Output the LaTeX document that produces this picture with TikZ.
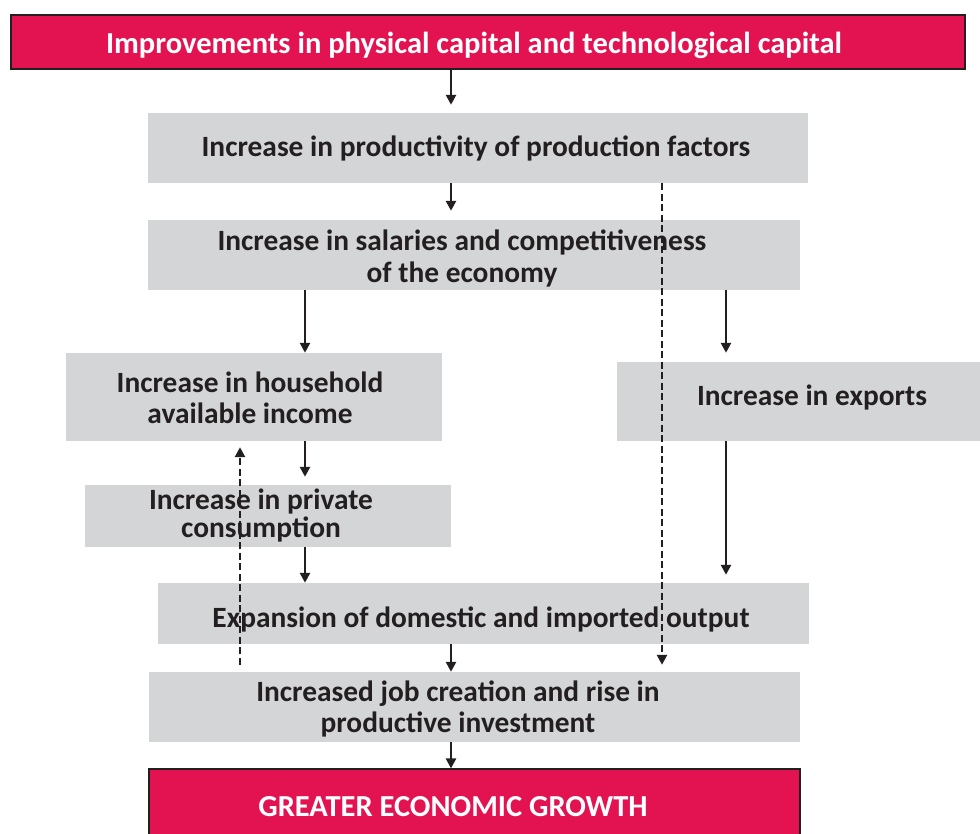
\documentclass[tikz,border=0pt]{standalone}
\usepackage{fontspec}
\setmainfont{Carlito}
\usetikzlibrary{arrows.meta}
\definecolor{boxgray}{HTML}{D4D5D7}
\definecolor{accent}{HTML}{E31351}
\definecolor{ink}{HTML}{231F20}
\begin{document}
\begin{tikzpicture}[x=1pt,y=-1pt,
  panel/.style={fill=boxgray, inner sep=0pt, draw=none},
  hotpanel/.style={fill=accent, draw=ink, line width=1.2pt, inner sep=0pt},
  caption/.style={inner sep=0pt, align=center, text=ink,
    font=\bfseries\fontsize{29.4}{31.5}\selectfont},
  hotcaption/.style={caption, text=white,
    font=\bfseries\fontsize{30.5}{32}\selectfont},
  flow/.style={draw=ink, line width=2.6pt, -{Triangle[length=10pt,width=10pt]}},
  feedback/.style={flow, dash pattern=on 7pt off 3.5pt}]
\clip (0,0) rectangle (980,834);

% boxes
\node[hotpanel, minimum width=954, minimum height=54] (top) at (488,42) {};
\node[panel, minimum width=660, minimum height=70] (prod) at (478,148) {};
\node[panel, minimum width=652, minimum height=70] (sal) at (474,255) {};
\node[panel, minimum width=376, minimum height=88] (house) at (254,397) {};
\node[panel, minimum width=390, minimum height=79] (exp) at (812,401.5) {};
\node[panel, minimum width=366, minimum height=62] (cons) at (268,516) {};
\node[panel, minimum width=651, minimum height=61] (out) at (483.5,613.5) {};
\node[panel, minimum width=651, minimum height=70] (job) at (474.5,707) {};
\node[hotpanel, minimum width=651, minimum height=76] (grow) at (474.5,807) {};

% texts
\node[hotcaption] (topT) at (474,45) {Improvements in physical capital and technological capital};
\node[caption] (prodT) at (476,148) {Increase in productivity of production factors};
\node[caption] (salT) at (462,258.5) {Increase in salaries and competitiveness\\of the economy};
\node[caption] (houseT) at (250,398) {Increase in household\\available income};
\node[caption] (expT) at (812,397) {Increase in exports};
\node[caption, font=\bfseries\fontsize{29.4}{28}\selectfont] (consT) at (261,515) {Increase in private\\consumption};
\node[caption] (outT) at (481,619) {Expansion of domestic and imported output};
\node[caption] (jobT) at (458,709) {Increased job creation and rise in\\productive investment};
\node[hotcaption] (growT) at (453,807) {GREATER ECONOMIC GROWTH};

% arrow columns
\coordinate (c1) at (451,0);
\coordinate (c2) at (305,0);
\coordinate (c3) at (726,0);
\coordinate (c4) at (662,0);
\coordinate (c5) at (240,0);

\draw[flow, shorten >=8pt] (top.south -| c1) -- (prod.north -| c1);
\draw[flow, shorten >=9pt] (prod.south -| c1) -- (sal.north -| c1);
\draw[flow] (sal.south -| c2) -- (house.north -| c2);
\draw[flow, shorten >=9pt] (sal.south -| c3) -- (exp.north -| c3);
\draw[flow, shorten >=8pt] (house.south -| c2) -- (cons.north -| c2);
\draw[flow] (cons.south -| c2) -- (out.north -| c2);
\draw[flow, shorten >=8pt] (exp.south -| c3) -- (out.north -| c3);
\draw[flow] (out.south -| c1) -- (job.north -| c1);
\draw[flow] (job.south -| c1) -- (grow.north -| c1);
\draw[feedback, shorten >=7pt] (prod.south -| c4) -- (job.north -| c4);
\draw[feedback, shorten <=7pt, shorten >=6pt] (job.north -| c5) -- (house.south -| c5);
\end{tikzpicture}
\end{document}
